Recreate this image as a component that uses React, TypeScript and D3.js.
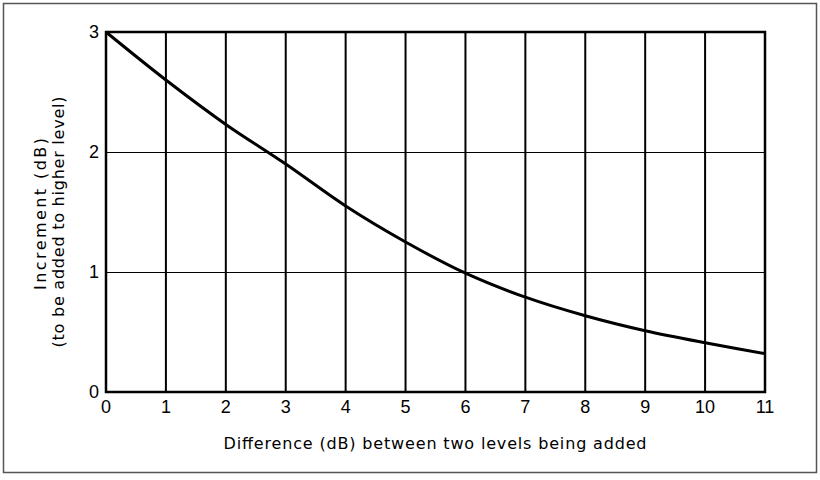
import { useEffect, useRef } from 'react';
import * as d3 from 'd3';

// level difference (dB) and increment to add to the higher level (dB)
const differences = [0, 1, 2, 3, 4, 5, 6, 7, 8, 9, 10, 11];
const increments = [3.0, 2.6, 2.23, 1.9, 1.55, 1.25, 0.99, 0.79, 0.635, 0.51, 0.41, 0.32];
const xTicks = [0, 1, 2, 3, 4, 5, 6, 7, 8, 9, 10, 11];
const yTicks = [0, 1, 2, 3];

const App = () => {
  const svgRef = useRef<SVGSVGElement>(null);

  useEffect(() => {
    const root = d3.select(svgRef.current);
    root.selectAll('*').remove();

    const W = 820;
    const H = 480;
    const margin = { top: 32, right: 55, bottom: 88, left: 106 };
    const width = W - margin.left - margin.right;
    const height = H - margin.top - margin.bottom;
    const font = 'Liberation Sans, Arial, Helvetica, sans-serif';
    const titleFont = "'DejaVu Sans', Verdana, sans-serif";

    root.attr('width', W).attr('height', H);

    root
      .append('rect')
      .attr('width', W)
      .attr('height', H)
      .attr('fill', '#fff');

    // outer frame
    root
      .append('rect')
      .attr('x', 3.5)
      .attr('y', 3.5)
      .attr('width', 813)
      .attr('height', 469)
      .attr('fill', 'none')
      .attr('stroke', '#555')
      .attr('stroke-width', 1.5);

    const svg = root.append('g').attr('transform', `translate(${margin.left},${margin.top})`);

    const x = d3.scaleLinear().domain([0, 11]).range([0, width]);
    const y = d3.scaleLinear().domain([0, 3]).range([height, 0]);

    // horizontal grid (thin)
    svg
      .selectAll('.hgrid')
      .data(yTicks.slice(1, -1))
      .enter()
      .append('line')
      .attr('x1', 0)
      .attr('x2', width)
      .attr('y1', d => y(d) + 0.5)
      .attr('y2', d => y(d) + 0.5)
      .attr('stroke', '#000')
      .attr('stroke-width', 1);

    // vertical grid (heavier)
    svg
      .selectAll('.vgrid')
      .data(xTicks.slice(1, -1))
      .enter()
      .append('line')
      .attr('x1', d => x(d))
      .attr('x2', d => x(d))
      .attr('y1', 0)
      .attr('y2', height)
      .attr('stroke', '#000')
      .attr('stroke-width', 2);

    // plot border
    svg
      .append('rect')
      .attr('x', 0)
      .attr('y', 0)
      .attr('width', width)
      .attr('height', height)
      .attr('fill', 'none')
      .attr('stroke', '#000')
      .attr('stroke-width', 2.5);

    // curve
    const line = d3
      .line<number>()
      .x((d, i) => x(differences[i]))
      .y(d => y(d))
      .curve(d3.curveCatmullRom);

    svg
      .append('path')
      .datum(increments)
      .attr('d', line)
      .attr('fill', 'none')
      .attr('stroke', '#000')
      .attr('stroke-width', 3);

    // tick labels
    svg
      .selectAll('.xlab')
      .data(xTicks)
      .enter()
      .append('text')
      .attr('x', d => x(d))
      .attr('y', height + 21)
      .attr('text-anchor', 'middle')
      .style('font-family', font)
      .style('font-size', '18px')
      .text(d => d);

    svg
      .selectAll('.ylab')
      .data(yTicks)
      .enter()
      .append('text')
      .attr('x', -7)
      .attr('y', d => y(d) + 6)
      .attr('text-anchor', 'end')
      .style('font-family', font)
      .style('font-size', '18px')
      .text(d => d);

    // axis titles
    svg
      .append('text')
      .attr('x', 329)
      .attr('y', height + 57)
      .attr('text-anchor', 'middle')
      .attr('textLength', 423)
      .attr('lengthAdjust', 'spacing')
      .style('font-family', titleFont)
      .style('font-size', '16px')
      .text('Difference (dB) between two levels being added');

    svg
      .append('text')
      .attr('transform', `translate(-60,${214 - margin.top}) rotate(-90)`)
      .attr('text-anchor', 'middle')
      .attr('textLength', 152)
      .attr('lengthAdjust', 'spacing')
      .style('font-family', titleFont)
      .style('font-size', '16px')
      .text('Increment (dB)');

    svg
      .append('text')
      .attr('transform', `translate(-42,${222 - margin.top}) rotate(-90)`)
      .attr('text-anchor', 'middle')
      .attr('textLength', 251)
      .attr('lengthAdjust', 'spacing')
      .style('font-family', titleFont)
      .style('font-size', '16px')
      .text('(to be added to higher level)');
  }, []);

  return (
    <svg
      ref={svgRef}
      style={{ display: 'block', position: 'absolute', left: 0, top: 0 }}
    ></svg>
  );
};

export default App;
